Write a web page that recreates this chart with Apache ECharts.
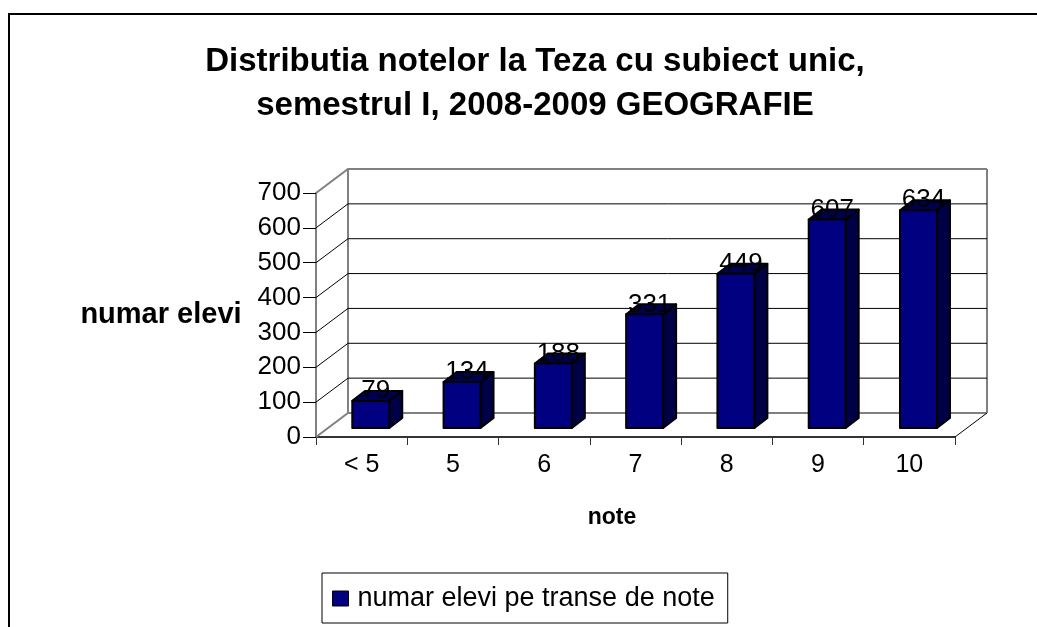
<!DOCTYPE html>
<html><head><meta charset="utf-8">
<script src="https://cdn.jsdelivr.net/npm/echarts@6/dist/echarts.min.js"></script>
<style>html,body{margin:0;padding:0;background:#fff}#c{width:1037px;height:627px}</style>
</head><body><div id="c"></div>
<script>
const categories = ['< 5', '5', '6', '7', '8', '9', '10'];
const values = [79, 134, 188, 331, 449, 607, 634];
const yTicks = [0, 100, 200, 300, 400, 500, 600, 700];
const seriesName = 'numar elevi pe transe de note';
const titleLines = ['Distributia notelor la Teza cu subiect unic,', 'semestrul I, 2008-2009 GEOGRAFIE'];
const yName = 'numar elevi';
const xName = 'note';

const FONT = '"Liberation Sans", Arial, sans-serif';
const DX = 32, DY = -24;

function renderWall(params, api) {
  const cs = params.coordSys;
  const v = api.value(1);
  const y = api.coord([0, v])[1];
  const L = cs.x, R = cs.x + cs.width;
  const edge = (v === yTicks[0] || v === yTicks[yTicks.length - 1]);
  const children = [{
    type: 'polyline',
    shape: { points: [[L, y], [L + DX, y + DY], [R + DX, y + DY]] },
    style: { fill: null, stroke: edge ? '#808080' : '#000', lineWidth: edge ? 2 : 1 }
  }];
  if (params.dataIndex === 0) {
    const yTop = api.coord([0, yTicks[yTicks.length - 1]])[1];
    children.push({ type: 'line', shape: { x1: L + DX, y1: y + DY, x2: L + DX, y2: yTop + DY }, style: { stroke: '#808080', lineWidth: 2 } });
    children.push({ type: 'line', shape: { x1: R + DX, y1: y + DY, x2: R + DX, y2: yTop + DY }, style: { stroke: '#808080', lineWidth: 2 } });
    children.push({ type: 'line', shape: { x1: R, y1: y, x2: R + DX, y2: y + DY }, style: { stroke: '#000', lineWidth: 1 } });
  }
  return { type: 'group', children };
}

function renderBar(params, api) {
  const i = api.value(0), v = api.value(1);
  const base = api.coord([i, 0]);
  const top = api.coord([i, v]);
  const bw = api.size([1, 0])[0];
  const w = bw * 0.405;
  const cx = base[0] + bw * 0.1;
  const x0 = cx - w / 2, x1 = cx + w / 2;
  const by = base[1] - 9;
  const ty = by - (base[1] - top[1]) * 0.985;
  const sx = 13, sy = -10;
  const st = { stroke: '#000', lineWidth: 2, lineJoin: 'round' };
  return {
    type: 'group', children: [
      { type: 'polygon', shape: { points: [[x1, ty], [x1 + sx, ty + sy], [x1 + sx, by + sy], [x1, by]] }, style: Object.assign({ fill: '#000046' }, st) },
      { type: 'polygon', shape: { points: [[x0, ty], [x1, ty], [x1 + sx, ty + sy], [x0 + sx, ty + sy]] }, style: Object.assign({ fill: '#000050' }, st) },
      { type: 'rect', shape: { x: x0, y: ty, width: w, height: by - ty }, style: Object.assign({ fill: api.visual('color') }, st) },
      { type: 'text', z2: 10, style: { text: String(v), x: cx + 5, y: ty - 10, align: 'center', verticalAlign: 'middle', fill: '#000', fontSize: 26, fontFamily: FONT } }
    ]
  };
}

const chart = echarts.init(document.getElementById('c'), null, { renderer: 'canvas' });
chart.setOption({
  backgroundColor: '#fff',
  animation: false,
  graphic: [{
    type: 'rect', silent: true, z: -10,
    shape: { x: 9, y: 14, width: 1100, height: 700 },
    style: { fill: 'transparent', stroke: '#000', lineWidth: 2 }
  }],
  title: {
    text: titleLines.join('\n'),
    left: 530, top: 35, textAlign: 'center',
    textStyle: { fontSize: 33, fontWeight: 'bold', fontFamily: FONT, color: '#000', lineHeight: 44 }
  },
  legend: {
    data: [{ name: seriesName, icon: 'rect' }],
    left: 322, top: 573,
    padding: [12, 13, 11, 10],
    itemWidth: 16, itemHeight: 15,
    borderColor: '#000', borderWidth: 1,
    itemStyle: { borderColor: '#000', borderWidth: 1 },
    textStyle: { fontSize: 27, color: '#000', fontFamily: FONT, lineHeight: 27, padding: [0, 0, 0, 4] }
  },
  grid: { left: 316, right: 82, top: 193, bottom: 190, containLabel: false },
  xAxis: {
    type: 'category', data: categories,
    axisLine: { lineStyle: { color: '#333', width: 2 } },
    axisTick: { show: true, length: 8, lineStyle: { color: '#333' } },
    axisLabel: { fontSize: 25, color: '#000', fontFamily: FONT, margin: 16 },
    splitLine: { show: false },
    name: xName, nameLocation: 'middle', nameGap: 81,
    nameTextStyle: { fontSize: 23, fontWeight: 'bold', color: '#000', fontFamily: FONT, verticalAlign: 'middle', padding: [0, 47, 0, 0] }
  },
  yAxis: {
    type: 'value', min: yTicks[0], max: yTicks[yTicks.length - 1], interval: yTicks[1] - yTicks[0],
    axisLine: { show: true, lineStyle: { color: '#808080', width: 2 } },
    axisTick: { show: true, length: 13, lineStyle: { color: '#000' } },
    axisLabel: { fontSize: 26, color: '#000', fontFamily: FONT, margin: 15 },
    splitLine: { show: false },
    name: yName, nameLocation: 'middle', nameRotate: 0, nameGap: 155,
    nameTextStyle: { fontSize: 29, fontWeight: 'bold', color: '#000', fontFamily: FONT, align: 'center', verticalAlign: 'middle', padding: [6, 0, 0, 0] }
  },
  series: [
    {
      type: 'custom', name: 'walls', renderItem: renderWall, silent: true, z: 1,
      data: yTicks.map(v => [0, v]), encode: { x: 0, y: 1 }, clip: false
    },
    {
      type: 'custom', name: seriesName, renderItem: renderBar, z: 5,
      itemStyle: { color: '#000080', borderColor: '#000', borderWidth: 1 },
      data: values.map((v, i) => [i, v]), encode: { x: 0, y: 1 }, clip: false
    }
  ]
});
</script>
</body></html>
